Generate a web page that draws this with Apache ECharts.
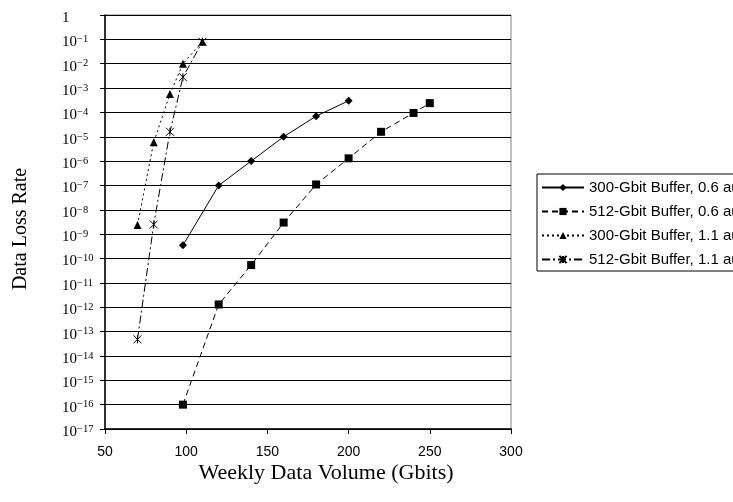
<!DOCTYPE html>
<html>
<head>
<meta charset="utf-8">
<script src="https://cdn.jsdelivr.net/npm/echarts@6/dist/echarts.min.js"></script>
<style>
  html, body { margin: 0; padding: 0; background: #fff; }
  #chart { width: 733px; height: 502px; }
</style>
</head>
<body>
<div id="chart"></div>
<script>
// Weekly data volume (Gbits) vs. data loss rate for two buffer sizes at two distances
const seriesNames = [
  '300-Gbit Buffer, 0.6 au',
  '512-Gbit Buffer, 0.6 au',
  '300-Gbit Buffer, 1.1 au',
  '512-Gbit Buffer, 1.1 au'
];

const buf300Near = [[98, 3.5e-10], [120, 1e-7], [140, 1e-6], [160, 1e-5], [180, 7e-5], [200, 3e-4]];
const buf512Near = [[98, 1e-16], [120, 1.3e-12], [140, 5.4e-11], [160, 3e-9], [180, 1.1e-7],
                    [200, 1.3e-6], [220, 1.6e-5], [240, 9.5e-5], [250, 2.4e-4]];
const buf300Far  = [[70, 2.4e-9], [80, 6e-6], [90, 5.7e-4], [98, 1e-2], [110, 8e-2]];
const buf512Far  = [[70, 4.8e-14], [80, 2.5e-9], [90, 1.6e-5], [98, 2.8e-3], [110, 8e-2]];

const xTicks = [50, 100, 150, 200, 250, 300];
const yMinExp = -17;
const yMaxExp = 0;

const serif = '"Liberation Serif", "Times New Roman", serif';
const sans = '"Liberation Sans", Arial, sans-serif';

// asterisk-like cross marker
const starPath = 'path://M0,0L10,10M10,0L0,10M5,0L5,10';

function lineSeries(name, data, dash, symbol, size) {
  return {
    name: name,
    type: 'line',
    data: data,
    symbol: symbol,
    symbolSize: size,
    symbolKeepAspect: true,
    showAllSymbol: true,
    clip: false,
    lineStyle: { color: '#000', width: 1, type: dash },
    itemStyle: { color: '#000', borderColor: '#000', borderWidth: symbol === starPath ? 1 : 0 },
    emphasis: { disabled: true },
    animation: false
  };
}

const chart = echarts.init(document.getElementById('chart'), null, { renderer: 'canvas' });

chart.setOption({
  backgroundColor: '#fff',
  animation: false,
  grid: {
    left: 105, right: 222, top: 15, bottom: 73,
    show: true, borderColor: '#808080', borderWidth: 1, backgroundColor: 'transparent'
  },
  legend: {
    orient: 'vertical',
    left: 537, top: 174,
    padding: [5, 80, 3, 4],
    itemGap: 7,
    itemWidth: 42,
    itemHeight: 9,
    backgroundColor: '#fff',
    borderColor: '#000',
    borderWidth: 1,
    borderRadius: 0,
    selectedMode: false,
    textStyle: { fontFamily: sans, fontSize: 15, color: '#000', lineHeight: 17 },
    data: seriesNames
  },
  xAxis: {
    type: 'value',
    min: xTicks[0], max: xTicks[xTicks.length - 1], interval: 50,
    axisLine: { show: true, onZero: false, lineStyle: { color: '#000', width: 1.5 } },
    axisTick: { show: true, length: 5, lineStyle: { color: '#000' } },
    splitLine: { show: false },
    axisLabel: { fontFamily: sans, fontSize: 14, color: '#000', margin: 16 }
  },
  yAxis: {
    type: 'log',
    logBase: 10,
    min: Math.pow(10, yMinExp), max: Math.pow(10, yMaxExp),
    interval: 1,
    axisLine: { show: true, onZero: false, lineStyle: { color: '#000', width: 1.5 } },
    axisTick: { show: true, length: 5, lineStyle: { color: '#000' } },
    splitLine: { show: true, lineStyle: { color: '#000', width: 1 } },
    minorTick: { show: false },
    axisLabel: {
      align: 'left',
      margin: 43,
      padding: [5, 0, 0, 0],
      formatter: function (v) {
        const e = Math.round(Math.log10(v));
        if (e === 0) return '{b|1}';
        return '{b|10}{s|\u2212' + (-e) + '}';
      },
      rich: {
        b: { fontFamily: serif, fontSize: 15, color: '#000', lineHeight: 16, verticalAlign: 'bottom' },
        s: { fontFamily: serif, fontSize: 10.5, color: '#000', lineHeight: 11, verticalAlign: 'top' }
      }
    }
  },
  series: [
    lineSeries(seriesNames[0], buf300Near, 'solid', 'diamond', 8),
    lineSeries(seriesNames[1], buf512Near, [6, 4], 'rect', 8),
    lineSeries(seriesNames[2], buf300Far, [2, 3], 'triangle', 8),
    lineSeries(seriesNames[3], buf512Far, [8, 3, 2, 3], starPath, 8)
  ],
  graphic: [
    {
      type: 'text',
      x: 326, y: 473,
      style: {
        text: 'Weekly Data Volume (Gbits)',
        font: '22px ' + serif,
        fill: '#000',
        align: 'center', verticalAlign: 'middle'
      }
    },
    {
      type: 'text',
      x: 21, y: 229,
      rotation: Math.PI / 2,
      style: {
        text: 'Data Loss Rate',
        font: '20px ' + serif,
        fill: '#000',
        align: 'center', verticalAlign: 'middle'
      }
    }
  ]
});
</script>
</body>
</html>
